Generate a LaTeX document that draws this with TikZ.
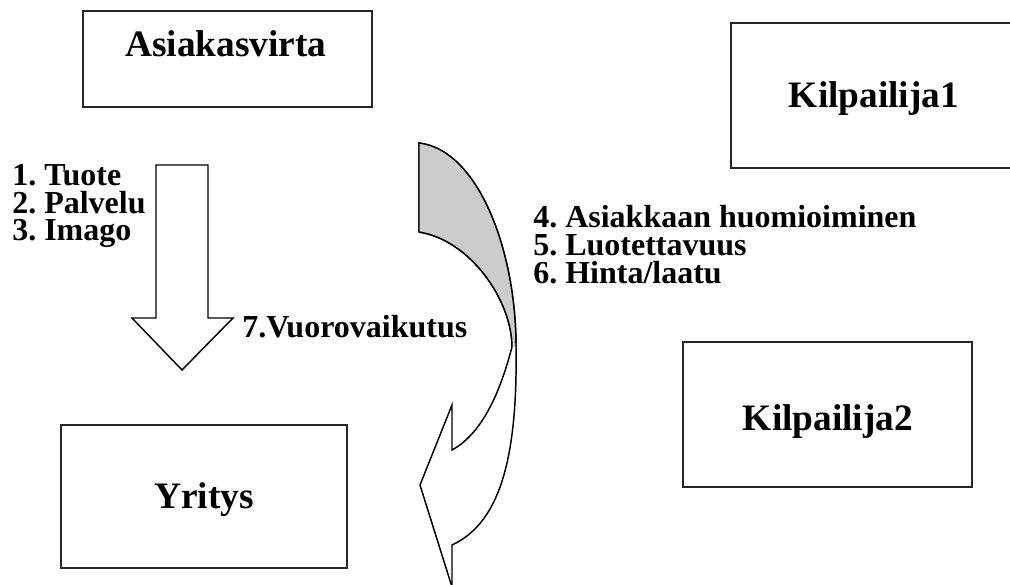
\documentclass[tikz,border=0pt]{standalone}
\usepackage{fontspec}
\setmainfont{Liberation Serif}
\frenchspacing
\definecolor{backshade}{RGB}{204,204,204}
\begin{document}
\begin{tikzpicture}[x=0.75pt,y=-0.75pt,
  box/.style={draw=black!85,line width=1.3pt},
  shape outline/.style={draw=black,line width=1.1pt,line join=miter},
  title/.style={font=\fontsize{28}{30}\selectfont\bfseries,inner sep=0pt,anchor=base},
  item/.style={font=\fontsize{24}{26}\selectfont\bfseries,inner sep=0pt,anchor=base west,
    text height=17pt,text depth=4pt}]
\useasboundingbox (0,0) rectangle (1010,585);

% boxes
\draw[box] (83,11) rectangle (372,107);
\draw[box] (1015,23) -- (731,23) -- (731,168) -- (1015,168);
\draw[box] (683,342) rectangle (972,487);
\draw[box] (61,425) rectangle (347,568);

% box titles
\node[title] (asiakas) at (226,57) {Asiakasvirta};
\node[title] (kilp1) at (874,108) {Kilpailija1};
\node[title] (kilp2) at (828,430) {Kilpailija2};
\node[title] (yritys) at (204,508) {Yritys};

% straight block arrow
\draw[shape outline,fill=white] (156,165) -- (208,165) -- (208,318) -- (233,318)
  -- (182,370) -- (132,318) -- (156,318) -- cycle;

% curved block arrow: white body
\draw[shape outline,fill=white]
  (419,143) .. controls (478,150) and (516,250) .. (516,347)
  .. controls (518,470) and (495,525) .. (452,545)
  -- (452,587) -- (420,485) -- (452,405) -- (452,450)
  .. controls (485,432) and (502,385) .. (512,347)
  .. controls (512,300) and (470,240) .. (419,232) -- cycle;
% shaded back side of the band
\fill[backshade]
  (419,143) .. controls (478,150) and (516,250) .. (516,347)
  -- (512,347) .. controls (512,300) and (470,240) .. (419,232) -- cycle;
\draw[shape outline]
  (419,232) -- (419,143) .. controls (478,150) and (516,250) .. (516,347);
\draw[shape outline]
  (419,232) .. controls (470,240) and (512,300) .. (512,347);

% labels
\node[item] (l1) at (12,185) {1. Tuote};
\node[item] (l2) at (12,213) {2. Palvelu};
\node[item] (l3) at (12,240) {3. Imago};
\node[item] (l4) at (533,227) {4. Asiakkaan huomioiminen};
\node[item] (l5) at (533,255) {5. Luotettavuus};
\node[item] (l6) at (533,283) {6. Hinta/laatu};
\node[item] (l7) at (242,337) {7.Vuorovaikutus};
\end{tikzpicture}
\end{document}
